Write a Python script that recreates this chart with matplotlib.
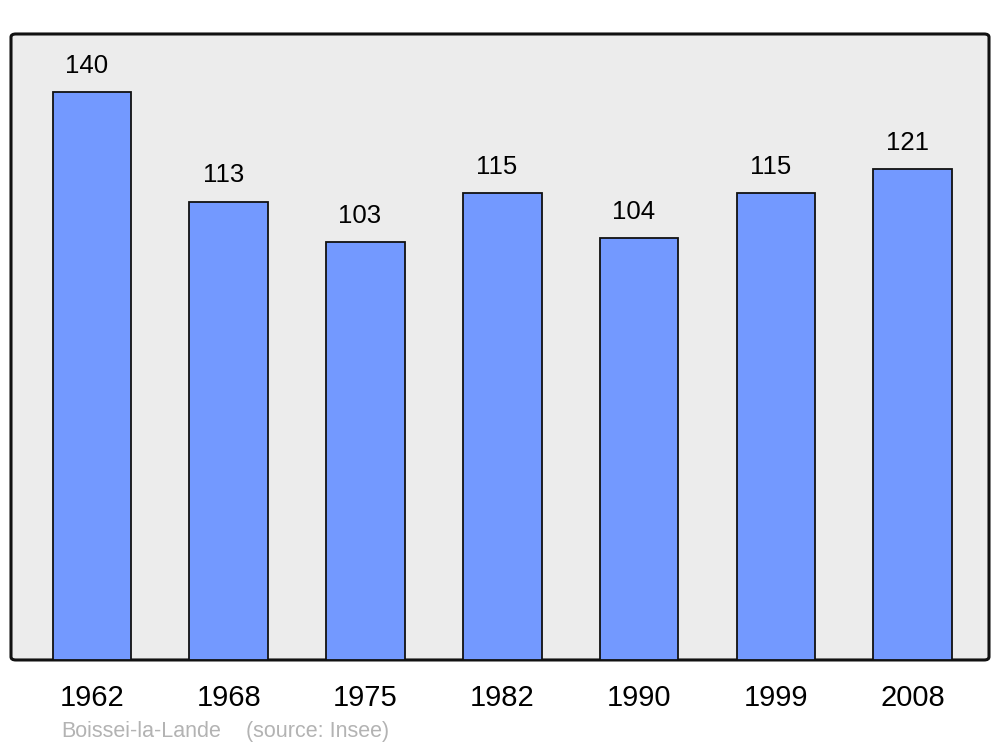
import matplotlib
matplotlib.use("Agg")
from matplotlib import pyplot as plt
from matplotlib.patches import FancyBboxPatch

years = ["1962", "1968", "1975", "1982", "1990", "1999", "2008"]
population = [140, 113, 103, 115, 104, 115, 121]
commune = "Boissei-la-Lande"
source = "(source: Insee)"

plt.rcParams['font.family'] = ['Liberation Sans', 'DejaVu Sans']

fig = plt.figure(figsize=(10, 7.47), dpi=100)
ax = fig.add_axes([0.011, 0.1165, 0.978, 0.838])
ax.set_facecolor("none")

# rounded background frame
frame = FancyBboxPatch((0, 0), 1, 1,
                       boxstyle="round,pad=0,rounding_size=0.005",
                       transform=ax.transAxes, facecolor="#ececec",
                       edgecolor="#111111", linewidth=2.2, zorder=0,
                       clip_on=False)
ax.add_patch(frame)

x = list(range(len(years)))
bars = ax.bar(x, population, width=0.575, color="#7399ff",
              edgecolor="#111111", linewidth=1.3, zorder=2)
for xi, v in zip(x, population):
    ax.annotate(str(v), (xi, v), xytext=(-4, 19), textcoords="offset points",
                ha="center", va="center", fontsize=18.5, color="black")

ax.set_xlim(-0.592, 6.558)
ax.set_ylim(0, 154.3)
ax.set_xticks(x)
ax.set_xticklabels(years, fontsize=21)
ax.tick_params(axis="x", length=0, pad=17)
ax.set_yticks([])
for s in ax.spines.values():
    s.set_visible(False)

fig.text(0.061, 0.021, commune, fontsize=15.5,
         color="#b3b3b3", ha="left", va="center")
fig.text(0.246, 0.021, source, fontsize=15.5,
         color="#b3b3b3", ha="left", va="center")

fig.savefig("out.png", dpi=100)
